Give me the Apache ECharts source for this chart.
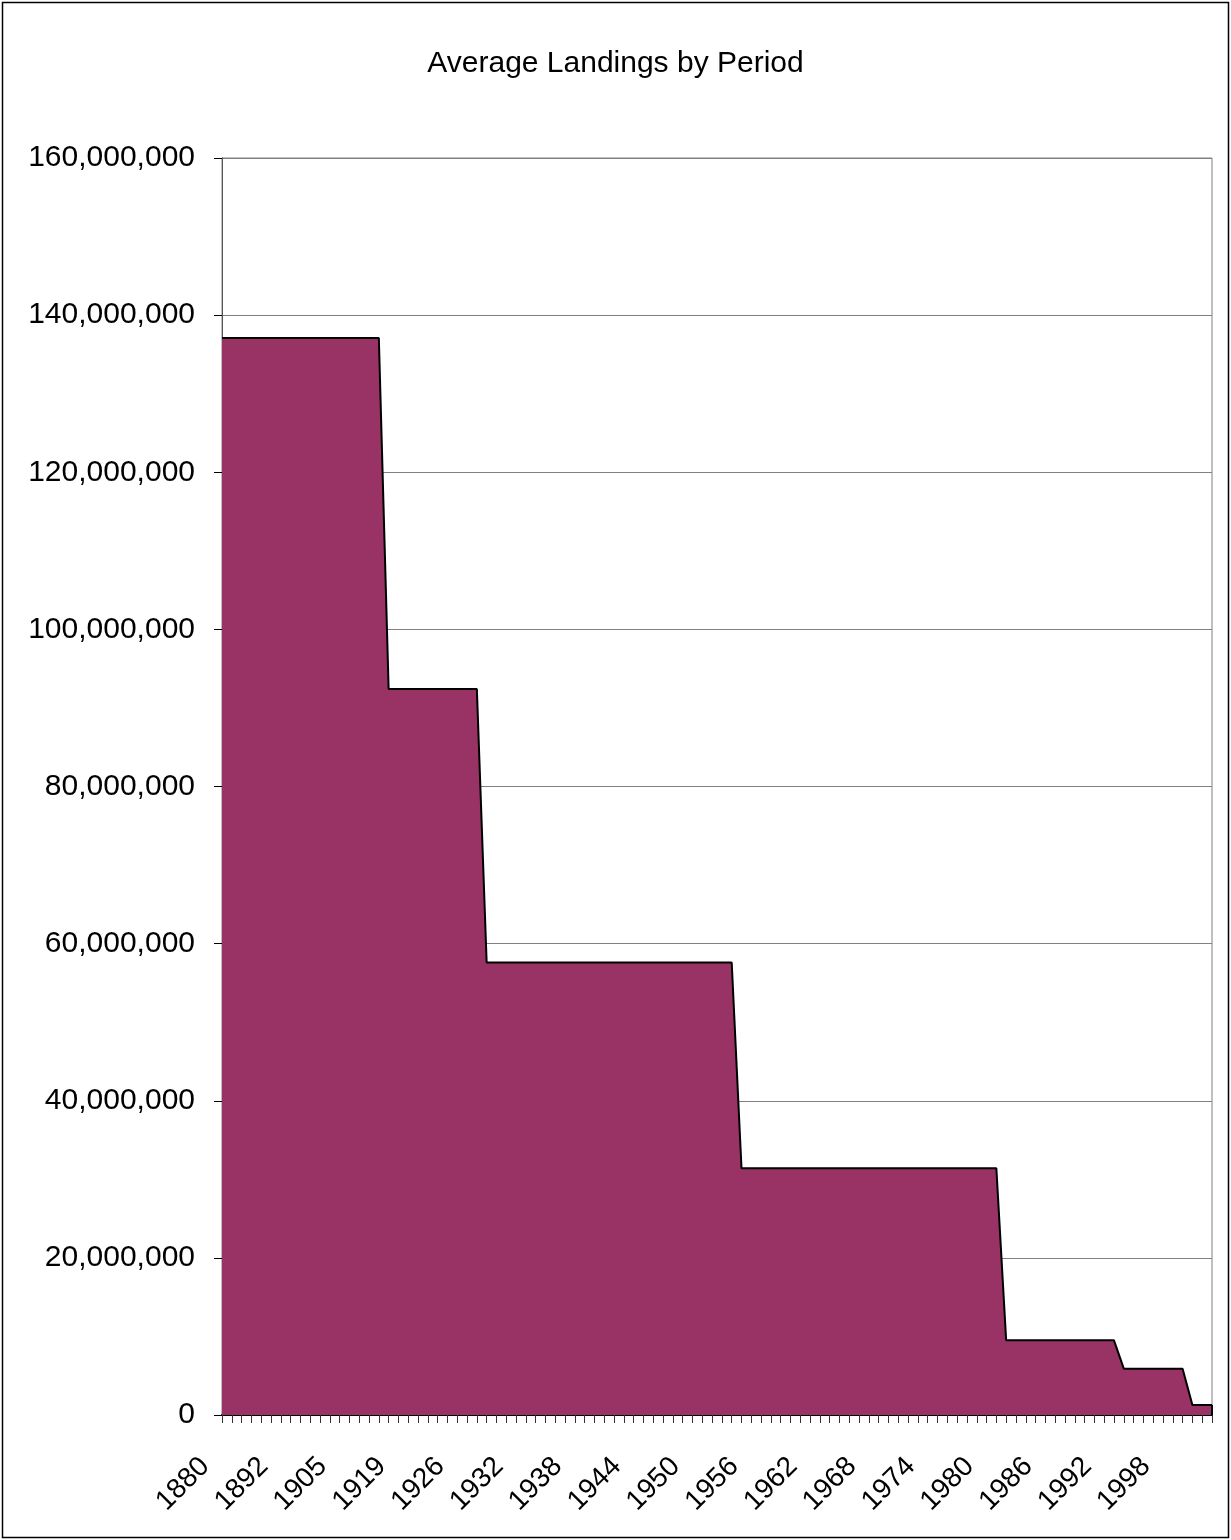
<!DOCTYPE html>
<html>
<head>
<meta charset="utf-8">
<script src="https://cdn.jsdelivr.net/npm/echarts@6/dist/echarts.min.js"></script>
<style>
html,body{margin:0;padding:0;background:#fff;}
#chart{width:1231px;height:1540px;}
</style>
</head>
<body>
<div id="chart"></div>
<script>
// Category years (one per tick on the x axis)
var years = [
  '1880','1887','1888','1889','1890','1891',
  '1892','1895','1897','1898','1901','1902',
  '1905','1908','1909','1910','1912','1915',
  '1919','1920','1921','1922','1923','1924',
  '1926','1927','1928','1929','1930','1931',
  '1932','1933','1934','1935','1936','1937',
  '1938','1939','1940','1941','1942','1943',
  '1944','1945','1946','1947','1948','1949',
  '1950','1951','1952','1953','1954','1955',
  '1956','1957','1958','1959','1960','1961',
  '1962','1963','1964','1965','1966','1967',
  '1968','1969','1970','1971','1972','1973',
  '1974','1975','1976','1977','1978','1979',
  '1980','1981','1982','1983','1984','1985',
  '1986','1987','1988','1989','1990','1991',
  '1992','1993','1994','1995','1996','1997',
  '1998','1999','2000','2001','2002','2003'
];

// Average landings of the period each year belongs to
var landings = [
  137100000,137100000,137100000,137100000,137100000,137100000,
  137100000,137100000,137100000,137100000,137100000,137100000,
  137100000,137100000,137100000,137100000,137100000,
  92400000,92400000,92400000,92400000,92400000,
  92400000,92400000,92400000,92400000,92400000,
  57600000,57600000,57600000,57600000,57600000,57600000,
  57600000,57600000,57600000,57600000,57600000,57600000,
  57600000,57600000,57600000,57600000,57600000,57600000,
  57600000,57600000,57600000,57600000,57600000,57600000,
  57600000,57600000,
  31400000,31400000,31400000,31400000,31400000,31400000,
  31400000,31400000,31400000,31400000,31400000,31400000,
  31400000,31400000,31400000,31400000,31400000,31400000,
  31400000,31400000,31400000,31400000,31400000,31400000,
  31400000,31400000,31400000,
  9500000,9500000,9500000,9500000,9500000,9500000,
  9500000,9500000,9500000,9500000,9500000,9500000,
  5900000,5900000,5900000,5900000,5900000,5900000,5900000,
  1270000,1270000,1270000
];

var yTicks = { min: 0, max: 160000000, interval: 20000000 };

function commas(v) {
  return String(v).replace(/\B(?=(\d{3})+(?!\d))/g, ',');
}

var lastYear = years[years.length - 1];
var lastValue = landings[landings.length - 1];

var chart = echarts.init(document.getElementById('chart'), null, { renderer: 'canvas' });
chart.setOption({
  animation: false,
  backgroundColor: '#ffffff',
  title: {
    text: 'Average Landings by Period',
    left: 'center',
    top: 44,
    textStyle: { fontFamily: 'Liberation Sans', fontSize: 30, fontWeight: 'normal', color: '#000' }
  },
  graphic: [{
    type: 'rect',
    shape: { x: 2.5, y: 2.5, width: 1226, height: 1535 },
    style: { fill: 'none', stroke: '#000', lineWidth: 1.5 },
    silent: true
  }],
  grid: {
    left: 222, right: 19, top: 158, bottom: 125,
    show: true, borderColor: '#808080', borderWidth: 1, backgroundColor: 'transparent'
  },
  xAxis: {
    type: 'category',
    data: years,
    boundaryGap: false,
    axisLine: { show: true, lineStyle: { color: '#000', width: 2 } },
    axisTick: { show: true, interval: 0, length: 8, lineStyle: { color: '#333', width: 1 } },
    axisLabel: {
      interval: 5,
      rotate: 45,
      margin: 30,
      padding: [0, 24, 0, 0],
      fontFamily: 'Liberation Sans',
      fontSize: 28,
      color: '#000'
    },
    splitLine: { show: false }
  },
  yAxis: {
    type: 'value',
    min: yTicks.min,
    max: yTicks.max,
    interval: yTicks.interval,
    axisLine: { show: true, lineStyle: { color: '#555', width: 1 } },
    axisTick: { show: true, length: 8, lineStyle: { color: '#000', width: 1 } },
    axisLabel: {
      formatter: commas,
      margin: 27,
      fontFamily: 'Liberation Sans',
      fontSize: 30,
      color: '#000'
    },
    splitLine: { show: true, lineStyle: { color: '#808080', width: 1 } }
  },
  series: [{
    type: 'line',
    data: landings,
    symbol: 'none',
    lineStyle: { color: '#000', width: 2 },
    areaStyle: { color: '#993366', opacity: 1 },
    z: 3,
    markLine: {
      silent: true,
      symbol: 'none',
      label: { show: false },
      lineStyle: { color: '#000', width: 2, type: 'solid' },
      data: [[{ coord: [lastYear, 0] }, { coord: [lastYear, lastValue] }]]
    }
  }]
});
</script>
</body>
</html>
